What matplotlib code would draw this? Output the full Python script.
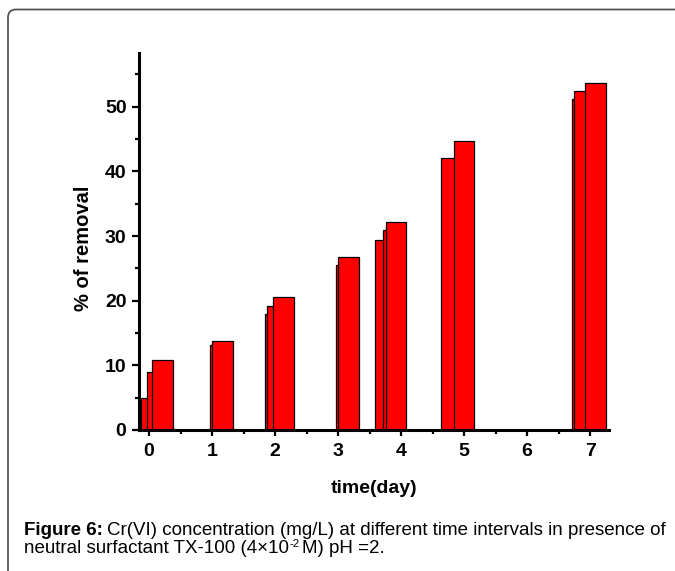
import matplotlib
matplotlib.use('Agg')
import matplotlib.pyplot as plt
from matplotlib.patches import FancyBboxPatch
from matplotlib.ticker import MultipleLocator

plt.rcParams['font.family'] = 'Liberation Sans'

# bar centres (day) and % removal
day0 = [0.035, 0.125, 0.215]
rem0 = [5.0, 8.9, 10.9]
day1 = [1.13, 1.17]
rem1 = [13.1, 13.8]
day2 = [2.0, 2.04, 2.13]
rem2 = [17.9, 19.2, 20.5]
day3 = [3.13, 3.17]
rem3 = [25.5, 26.8]
day4 = [3.75, 3.88, 3.92]
rem4 = [29.4, 31.0, 32.1]
day5 = [4.80, 5.00]
rem5 = [42.1, 44.7]
day7 = [6.875, 6.905, 7.08]
rem7 = [51.2, 52.5, 53.7]

days = day0 + day1 + day2 + day3 + day4 + day5 + day7
removal = rem0 + rem1 + rem2 + rem3 + rem4 + rem5 + rem7

x_ticks = [0, 1, 2, 3, 4, 5, 6, 7]
y_ticks = [0, 10, 20, 30, 40, 50]

W, H = 675, 571
fig = plt.figure(figsize=(W / 100, H / 100), dpi=100)

# rounded frame around the whole figure (runs off right and bottom)
frame = FancyBboxPatch((8, -30), 720, H - 9.5 + 30,
                       boxstyle='round,pad=0,rounding_size=8',
                       transform=None, facecolor='none',
                       edgecolor='#555555', linewidth=1.3)
fig.patches.append(frame)

ax = fig.add_axes([139 / W, 1 - 430 / H, 470 / W, 377 / H])

# draw one by one so the later (taller) bar sits on top
for d, r in zip(days, removal):
    ax.bar(d, r, width=0.33, color='#ff0000', edgecolor='black', linewidth=0.9)

ax.set_xlim(-0.16, 7.30)
ax.set_ylim(0, 58.3)
ax.set_xticks(x_ticks)
ax.set_yticks(y_ticks)
ax.xaxis.set_minor_locator(MultipleLocator(0.5))
ax.yaxis.set_minor_locator(MultipleLocator(5))

for s in ['top', 'right']:
    ax.spines[s].set_visible(False)
for s in ['left', 'bottom']:
    ax.spines[s].set_linewidth(2.2)

ax.tick_params(which='major', direction='out', length=5, width=1.6,
               labelsize=14, pad=4)
ax.tick_params(which='minor', direction='out', length=3, width=1.6)
ax.tick_params(axis='x', which='major', length=4, pad=5)
for lab in ax.get_xticklabels() + ax.get_yticklabels():
    lab.set_fontweight('bold')

ax.set_xlabel('time(day)', fontsize=14, fontweight='bold')
ax.xaxis.set_label_coords(0.5, -0.154)
ax.xaxis.label.set_va('center')
ax.set_ylabel('% of removal', fontsize=14.5, fontweight='bold')
ax.yaxis.set_label_coords(-0.119, 0.483)
ax.yaxis.label.set_va('center')

# caption, built from pieces so the bold part and the superscript fit
r = fig.canvas.get_renderer()
fs = 13.5
x0 = 24
y1 = H - 535
y2 = H - 553

def put(x, y, s, **kw):
    t = fig.text(x / W, y / H, s, va='baseline', ha='left', **kw)
    return t.get_window_extent(renderer=r).x1

xe = put(x0, y1, 'Figure 6:', fontsize=fs, fontweight='bold')
put(xe + 4, y1,
    'Cr(VI) concentration (mg/L) at different time intervals in presence of',
    fontsize=fs)
xe = put(x0, y2, 'neutral surfactant TX-100 (4\u00d710', fontsize=fs)
xe = put(xe + 0.5, y2 + 6, '-2', fontsize=fs * 0.6)
put(xe + 2, y2, 'M) pH =2.', fontsize=fs)

fig.savefig('out.png', dpi=100)
